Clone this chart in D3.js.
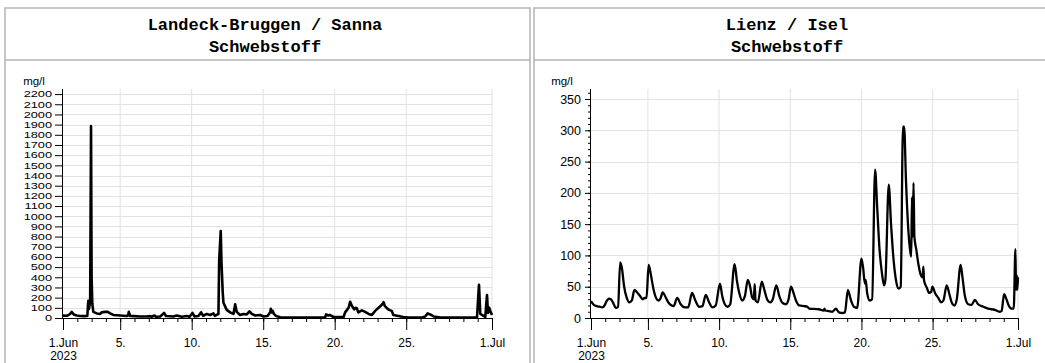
<!DOCTYPE html>
<html>
<head>
<meta charset="utf-8">
<script src="https://cdn.jsdelivr.net/npm/d3@7"></script>
<style>
  body { margin: 0; background: #fff; }
  svg { display: block; }
  .title { font-family: "Liberation Mono", "Courier New", monospace; font-weight: bold; font-size: 17px; }
  .axis text { font-family: "Liberation Sans", Arial, sans-serif; font-size: 12px; fill: #000; }
  .axis.yax text { font-size: 12.5px; }
  .axis path, .axis line { stroke: #000; }
  .grid line { stroke: #e2e2e2; stroke-width: 1; }
  .unit { font-family: "Liberation Sans", Arial, sans-serif; font-size: 11.5px; }
</style>
</head>
<body>
<svg id="chart" width="1045" height="363"></svg>
<script>
// ---- data (day offset from 1 June 2023 00:00, mg/l) ----
const sannaTitle = ["Landeck-Bruggen / Sanna", "Schwebstoff"];
const iselTitle = ["Lienz / Isel", "Schwebstoff"];

const sannaSeries = [
  [0,23],[0.3,22],[0.5,40],[0.6,60],[0.75,35],[0.96,25],[1.2,20],[1.5,18],[1.7,20],[1.77,170],[1.82,90],[1.9,170],
  [1.96,1885],[2.0,400],[2.05,140],[2.12,60],[2.36,45],[2.6,40],[2.7,55],[2.94,60],[3.1,62],[3.3,45],[3.52,30],
  [4.0,25],[4.45,20],[4.55,25],[4.6,60],[4.7,20],[5.0,18],[5.39,15],[5.85,15],[6.1,18],[6.2,12],[6.4,25],[6.5,12],
  [6.8,15],[7.07,50],[7.2,20],[7.72,15],[7.95,25],[8.3,12],[8.65,20],[8.85,12],[9.05,50],[9.2,15],[9.47,20],
  [9.66,55],[9.8,20],[10.05,40],[10.29,30],[10.52,45],[10.62,20],[10.87,40],[10.92,560],[11.03,855],[11.08,560],
  [11.12,420],[11.17,250],[11.22,150],[11.45,80],[11.69,55],[11.92,40],[12.04,135],[12.15,60],[12.38,30],
  [12.62,40],[12.85,35],[13.04,65],[13.2,40],[13.44,25],[13.79,30],[14.02,15],[14.3,20],[14.5,60],[14.53,90],
  [14.6,55],[14.67,70],[14.75,40],[14.9,20],[15.19,8],[15.9,5],[16.6,5],[17.3,5],[18.33,5],[18.4,35],[18.57,25],
  [18.65,30],[18.92,10],[19.62,10],[19.73,55],[19.97,100],[20.08,160],[20.2,120],[20.36,85],[20.45,100],
  [20.55,95],[20.65,55],[20.9,75],[21.13,60],[21.37,40],[21.6,30],[21.83,70],[22.07,100],[22.3,130],[22.42,155],
  [22.5,120],[22.7,90],[22.8,80],[22.99,70],[23.1,30],[23.46,20],[23.8,10],[24.17,5],[25.1,5],[25.33,15],
  [25.5,45],[25.68,35],[25.92,15],[26.4,5],[27.8,5],[28.95,5],[29.09,325],[29.18,40],[29.53,10],[29.65,225],
  [29.72,50],[29.81,100],[29.9,60],[30.0,30]
];

const iselSeries = [
  [0,27],[0.2,21],[0.4,19],[0.6,18],[0.8,17],[0.95,20],[1.1,27],[1.25,31],[1.4,30],[1.6,22],[1.75,16],[1.9,18],
  [2.05,89],[2.17,80],[2.33,50],[2.5,33],[2.7,25],[2.87,28],[3.05,45],[3.2,42],[3.45,35],[3.63,30],[3.77,32],
  [3.9,32],[4.05,85],[4.2,70],[4.4,45],[4.57,32],[4.75,28],[4.9,32],[5.03,41],[5.27,32],[5.43,25],[5.66,20],
  [5.8,19],[6.06,32],[6.3,22],[6.6,17],[6.83,17],[7.1,40],[7.33,28],[7.6,18],[7.83,19],[8.06,37],[8.3,25],
  [8.53,17],[8.76,20],[9.06,55],[9.22,35],[9.4,22],[9.6,18],[9.78,22],[10.09,86],[10.25,60],[10.44,38],
  [10.62,28],[10.81,35],[11.02,61],[11.18,50],[11.32,33],[11.44,30],[11.5,54],[11.56,28],[11.72,25],[12.0,58],
  [12.18,45],[12.37,30],[12.6,25],[12.77,30],[13.02,52],[13.23,35],[13.46,24],[13.7,22],[13.88,30],[14.05,50],
  [14.2,42],[14.4,28],[14.63,20],[14.98,19],[15.2,18],[15.33,15],[16.0,14],[16.37,12],[16.4,15],[16.45,12],
  [16.7,11],[16.96,10],[17.2,15],[17.42,9],[17.66,8],[17.84,9],[18.05,45],[18.24,30],[18.47,18],[18.7,16],
  [19.0,95],[19.12,80],[19.24,55],[19.3,61],[19.4,40],[19.59,28],[19.75,30],[19.96,237],[20.1,180],[20.27,110],
  [20.45,70],[20.59,52],[20.68,60],[20.92,213],[21.08,150],[21.27,90],[21.43,60],[21.62,47],[21.76,50],
  [21.92,306],[22.0,306],[22.13,220],[22.27,150],[22.41,110],[22.5,98],[22.55,193],[22.6,130],[22.66,216],
  [22.72,130],[22.85,110],[23.01,85],[23.15,70],[23.3,65],[23.35,82],[23.4,60],[23.6,48],[23.76,40],[23.9,42],
  [23.99,50],[24.17,40],[24.4,32],[24.6,25],[24.76,28],[24.99,52],[25.18,38],[25.34,25],[25.53,20],[25.7,30],
  [25.97,85],[26.1,65],[26.27,35],[26.5,22],[26.74,21],[26.97,29],[27.2,22],[27.56,18],[27.9,15],[28.37,13],
  [28.72,10],[28.85,11],[29.02,38],[29.19,30],[29.35,20],[29.54,15],[29.7,15],[29.82,110],[29.86,45],
  [29.92,68],[29.95,45],[30.0,65]
];

const xMajorDays = [0, 4, 9, 14, 19, 24, 30];
const xMajorLabels = ["1.Jun|2023", "5.", "10.", "15.", "20.", "25.", "1.Jul"];
const sannaYTicks = d3.range(0, 2201, 100);
const iselYTicks = d3.range(0, 351, 50);
const iselYMinor = d3.range(0, 361, 10);
const unitLabel = "mg/l";

const start = Date.UTC(2023, 5, 1);
const toDate = d => new Date(start + d * 864e5);

const svg = d3.select("#chart");

class SedimentPanel {
    constructor(svg, opts) {
        this.svg = svg;
        this.opts = opts;
        this.initVis();
    }

    initVis() {
        let vis = this, o = vis.opts;

        // panel frame + title box
        vis.svg.append("rect")
            .attr("x", o.box[0]).attr("y", 8)
            .attr("width", o.box[1] - o.box[0]).attr("height", 400)
            .attr("fill", "none").attr("stroke", "#b4b4b4").attr("stroke-width", 1.5);
        vis.svg.append("line")
            .attr("x1", o.box[0]).attr("x2", o.box[1])
            .attr("y1", 60).attr("y2", 60)
            .attr("stroke", "#b4b4b4").attr("stroke-width", 1.5);

        vis.svg.selectAll(null).data(o.title).enter().append("text")
            .attr("class", "title")
            .attr("x", o.titleX)
            .attr("y", (d, i) => 30 + i * 22)
            .attr("text-anchor", "middle")
            .text(d => d);

        vis.x = d3.scaleUtc().domain([toDate(0), toDate(30)]).range([o.left, o.right]);
        vis.y = d3.scaleLinear().domain([0, o.yMax]).range([o.bottom, 89]);

        vis.g = vis.svg.append("g");

        // grid
        let grid = vis.g.append("g").attr("class", "grid");
        grid.selectAll(".h").data(o.yTicks.filter(v => v > 0)).enter().append("line")
            .attr("x1", o.left).attr("x2", o.right)
            .attr("y1", d => Math.round(vis.y(d)) + 0.5).attr("y2", d => Math.round(vis.y(d)) + 0.5);
        grid.selectAll(".v").data(xMajorDays.filter(v => v > 0)).enter().append("line")
            .attr("x1", d => vis.x(toDate(d))).attr("x2", d => vis.x(toDate(d)))
            .attr("y1", 89).attr("y2", o.bottom);

        // minor x ticks (daily)
        vis.g.append("g").attr("class", "axis")
            .attr("transform", "translate(0," + o.bottom + ")")
            .call(d3.axisBottom(vis.x).tickValues(d3.range(31).map(toDate)).tickSize(4).tickFormat(""))
            .select(".domain").remove();

        // major x axis
        let xa = vis.g.append("g").attr("class", "axis")
            .attr("transform", "translate(0," + o.bottom + ")")
            .call(d3.axisBottom(vis.x).tickValues(xMajorDays.map(toDate)).tickSize(12).tickPadding(8)
                .tickFormat((d, i) => xMajorLabels[i]));
        xa.select(".domain").attr("d", "M" + o.left + ",0.5H" + o.right);
        xa.selectAll(".tick text").each(function(d, i) {
            let parts = xMajorLabels[i].split("|");
            let t = d3.select(this).text(null);
            parts.forEach((p, j) => {
                t.append("tspan").attr("x", 0).attr("dy", j === 0 ? "0.71em" : "1.1em").text(p);
            });
        }).attr("dy", null);

        // y axis
        if (o.yMinor) {
            vis.g.append("g").attr("class", "axis")
                .attr("transform", "translate(" + o.left + ",0)")
                .call(d3.axisLeft(vis.y).tickValues(o.yMinor).tickSize(3).tickFormat(""))
                .select(".domain").remove();
        }
        let ya = vis.g.append("g").attr("class", "axis yax")
            .attr("transform", "translate(" + o.left + ",0)")
            .call(d3.axisLeft(vis.y).tickValues(o.yTicks).tickSize(o.yTickSize).tickPadding(o.yPad)
                .tickFormat(d3.format("d")));
        ya.select(".domain").attr("d", "M-0.5," + o.bottom + "V89");

        // dense labels on the left chart are short and wide
        if (o.yStretch) {
            ya.selectAll(".tick text")
                .style("font-size", o.yStretch[0] + "px")
                .attr("transform", "scale(" + o.yStretch[1] + ",1)")
                .attr("x", -(o.yTickSize + o.yPad) / o.yStretch[1]);
        }

        vis.svg.append("text")
            .attr("class", "unit")
            .attr("x", o.left - 29).attr("y", 85)
            .attr("text-anchor", "middle")
            .text(unitLabel);

        vis.updateVis();
    }

    updateVis() {
        let vis = this;
        let line = d3.line()
            .x(d => vis.x(toDate(d[0])))
            .y(d => vis.y(d[1]))
            .curve(vis.opts.curve);

        vis.g.append("path")
            .datum(vis.opts.data)
            .attr("fill", "none")
            .attr("stroke", "#000")
            .attr("stroke-width", vis.opts.lineWidth)
            .attr("stroke-linejoin", "round")
            .attr("d", line);
    }
}

new SedimentPanel(svg, {
    box: [5, 530], title: sannaTitle, titleX: 265,
    left: 63, right: 492, bottom: 318, yMax: 2250,
    yTicks: sannaYTicks, yTickSize: 8, yPad: 3, yStretch: [8.8, 1.45],
    data: sannaSeries, curve: d3.curveLinear, lineWidth: 2.6
});

new SedimentPanel(svg, {
    box: [534, 1052], title: iselTitle, titleX: 787,
    left: 591, right: 1018, bottom: 318, yMax: 366,
    yTicks: iselYTicks, yMinor: iselYMinor, yTickSize: 6, yPad: 4,
    data: iselSeries, curve: d3.curveMonotoneX, lineWidth: 2.3
});
</script>
</body>
</html>
